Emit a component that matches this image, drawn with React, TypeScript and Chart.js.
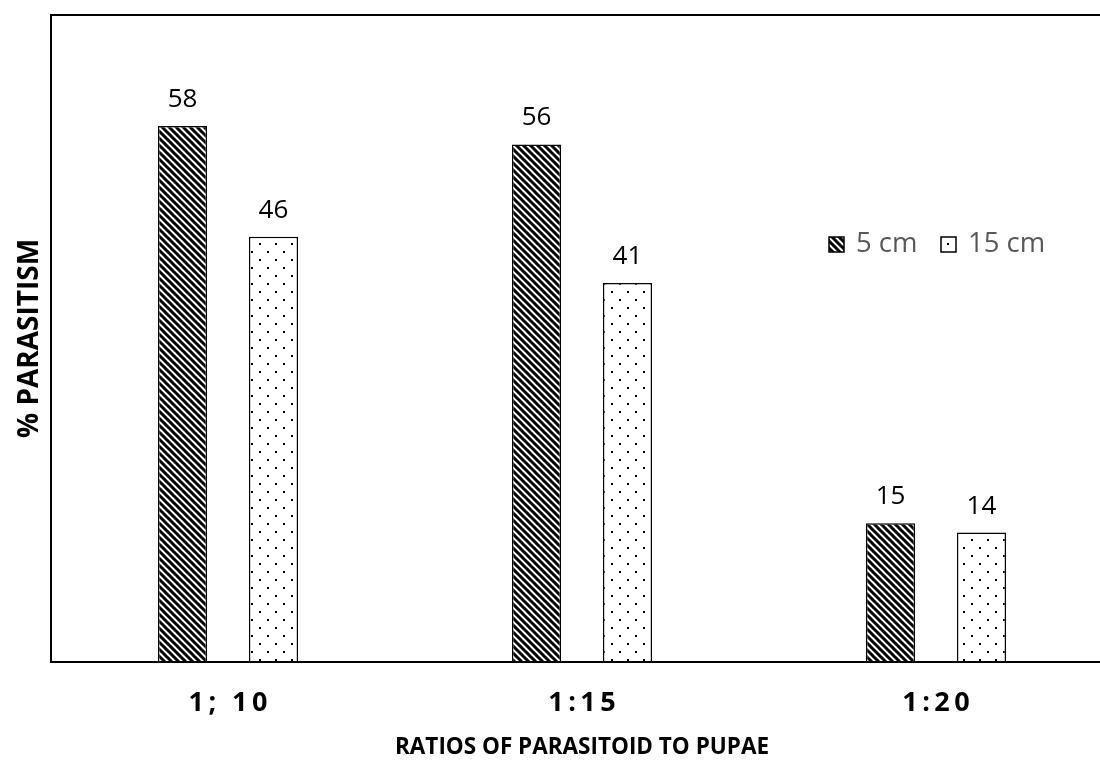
import React, { useEffect, useRef } from 'react';
import { Chart, registerables } from 'chart.js';

Chart.register(...registerables);

const categories = ['1; 10', '1:15', '1:20'];
const seriesLabels = ['5 cm', '15 cm'];
const values5cm = [58, 56, 15];
const values15cm = [46, 41, 14];
const yMin = 0;
const yMax = 70;
const xTitle = 'RATIOS OF PARASITOID TO PUPAE';
const yTitle = '% PARASITISM';

const FONT = "'Open Sans', 'DejaVu Sans', sans-serif";

function makeStripe(ctx: CanvasRenderingContext2D) {
  const s = 7;
  const c = document.createElement('canvas');
  c.width = s;
  c.height = s;
  const g = c.getContext('2d')!;
  g.fillStyle = '#fff';
  g.fillRect(0, 0, s, s);
  g.strokeStyle = '#000';
  g.lineWidth = 3;
  g.beginPath();
  g.moveTo(-1, -1);
  g.lineTo(s + 1, s + 1);
  g.moveTo(-1, s - 1);
  g.lineTo(1, s + 1);
  g.moveTo(s - 1, -1);
  g.lineTo(s + 1, 1);
  g.stroke();
  return ctx.createPattern(c, 'repeat')!;
}

function makeDots(ctx: CanvasRenderingContext2D) {
  const s = 16;
  const c = document.createElement('canvas');
  c.width = s;
  c.height = s;
  const g = c.getContext('2d')!;
  g.fillStyle = '#fff';
  g.fillRect(0, 0, s, s);
  g.fillStyle = '#000';
  g.fillRect(3, 3, 2, 2);
  g.fillRect(11, 11, 2, 2);
  return ctx.createPattern(c, 'repeat')!;
}

export default function App() {
  const ref = useRef<HTMLCanvasElement | null>(null);

  useEffect(() => {
    const canvas = ref.current!;
    const ctx = canvas.getContext('2d')!;
    const stripe = makeStripe(ctx);
    const dots = makeDots(ctx);
    const fills = [stripe, dots];

    const framePlugin = {
      id: 'frame',
      afterDatasetsDraw(chart: any) {
        const { ctx, chartArea } = chart;
        ctx.save();
        ctx.strokeStyle = '#000';
        ctx.lineWidth = 2;
        ctx.strokeRect(chartArea.left, chartArea.top, chartArea.right - chartArea.left, chartArea.bottom - chartArea.top);
        ctx.restore();
      },
    };

    const labelPlugin = {
      id: 'valueLabels',
      afterDraw(chart: any) {
        const { ctx } = chart;
        ctx.save();
        ctx.font = `26px ${FONT}`;
        ctx.fillStyle = '#000';
        ctx.textAlign = 'center';
        ctx.textBaseline = 'alphabetic';
        chart.data.datasets.forEach((ds: any, di: number) => {
          const meta = chart.getDatasetMeta(di);
          meta.data.forEach((bar: any, i: number) => {
            ctx.fillText(String(ds.data[i]), bar.x, bar.y - 19);
          });
        });
        ctx.restore();
      },
    };

    const legendPlugin = {
      id: 'customLegend',
      afterDraw(chart: any) {
        const { ctx } = chart;
        const boxes = [829, 941];
        ctx.save();
        ctx.font = `27.5px ${FONT}`;
        ctx.textBaseline = 'middle';
        ctx.textAlign = 'left';
        chart.data.datasets.forEach((ds: any, di: number) => {
          const x = boxes[di];
          const y = 237;
          ctx.fillStyle = ds.backgroundColor;
          ctx.fillRect(x, y, 15, 15);
          ctx.strokeStyle = '#000';
          ctx.lineWidth = 1.5;
          ctx.strokeRect(x, y, 15, 15);
          ctx.fillStyle = '#595959';
          ctx.fillText(ds.label, x + 27, y + 7.5);
        });
        ctx.restore();
      },
    };

    const chart = new Chart(canvas, {
      type: 'bar',
      data: {
        labels: categories,
        datasets: [
          {
            label: seriesLabels[0],
            data: values5cm,
            backgroundColor: fills[0] as any,
            borderColor: '#000',
            borderWidth: 1.5,
            categoryPercentage: 0.514,
            barPercentage: 0.54,
          },
          {
            label: seriesLabels[1],
            data: values15cm,
            backgroundColor: fills[1] as any,
            borderColor: '#000',
            borderWidth: 1.5,
            categoryPercentage: 0.514,
            barPercentage: 0.54,
          },
        ],
      },
      options: {
        animation: false,
        responsive: false,
        devicePixelRatio: 1,
        layout: { padding: { top: 15, right: 17, left: 0, bottom: 0 } },
        plugins: { legend: { display: false }, tooltip: { enabled: false } },
        scales: {
          x: {
            grid: { display: false, drawTicks: false },
            border: { display: false },
            ticks: {
              color: '#000',
              font: { family: FONT, weight: 'bold', size: 27 },
              padding: 25,
              callback: (_v: any, i: number) => categories[i].split('').join('\u2009'),
            },
            title: {
              display: true,
              text: xTitle,
              color: '#000',
              font: { family: FONT, weight: 'bold', size: 22.5 },
              padding: { top: 0, bottom: 0 },
            },
            afterFit: (s: any) => {
              s.height = 99;
            },
          },
          y: {
            min: yMin,
            max: yMax,
            grid: { display: false, drawTicks: false },
            border: { display: false },
            ticks: { display: false },
            title: {
              display: true,
              text: yTitle,
              color: '#000',
              font: { family: FONT, weight: 'bold', size: 28 },
              padding: { top: 13, bottom: 0 },
            },
            afterFit: (s: any) => {
              s.width = 51;
            },
          },
        },
      },
      plugins: [framePlugin, labelPlugin, legendPlugin],
    });

    return () => chart.destroy();
  }, []);

  return (
    <div style={{ position: 'fixed', left: 0, top: 0, width: 1100, height: 761, overflow: 'hidden', background: '#fff' }}>
      <canvas ref={ref} width={1130} height={761} style={{ width: 1130, height: 761, display: 'block' }} />
    </div>
  );
}
